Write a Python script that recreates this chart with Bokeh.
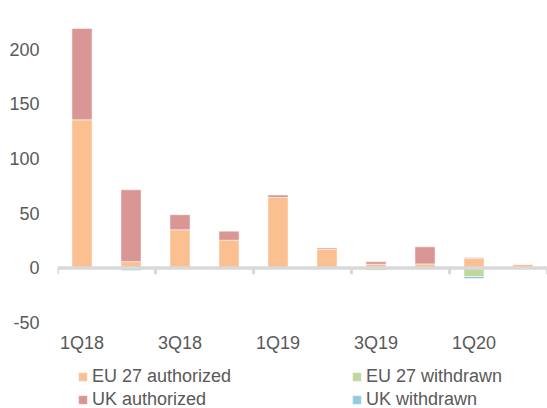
from bokeh.plotting import figure
from bokeh.models import (ColumnDataSource, FixedTicker, Span, Legend, LegendItem, Range1d)
from bokeh.embed import file_html
from bokeh.resources import INLINE

quarters = ["1Q18", "2Q18", "3Q18", "4Q18", "1Q19", "2Q19", "3Q19", "4Q19", "1Q20", "2Q20"]
eu_authorized = [135.5, 5.8, 34.9, 25.4, 64.5, 17.1, 3.4, 3.7, 8.6, 3.4]
uk_authorized = [83.5, 65.7, 13.8, 8.3, 2.2, 1.2, 2.4, 15.6, 0.9, 0.0]
eu_withdrawn = [0, 0, 0, 0, 0, 0, -2.3, 0, -7.8, 0]
uk_withdrawn = [0, -2.3, 0, 0, 0, 0, 0, 0, -1.9, 0]
y_ticks = [-50, 0, 50, 100, 150, 200, 250]

C_EU_A = "#FAC090"
C_UK_A = "#D99694"
C_EU_W = "#C3D69B"
C_UK_W = "#93CDDD"
TXT = "#595959"
AX = "#D9D9D9"
FONT = "Liberation Sans"

x = [i + 0.5 for i in range(len(quarters))]
src = ColumnDataSource(dict(x=x, eu_a=eu_authorized, uk_a=uk_authorized,
                            eu_w=eu_withdrawn, uk_w=uk_withdrawn))

p = figure(width=547, height=408, output_backend="svg", toolbar_location=None,
           x_range=Range1d(0, len(quarters)), y_range=Range1d(-128.5, 244.6),
           min_border_left=57, min_border_right=0, min_border_top=0, min_border_bottom=0)
p.outline_line_color = None
p.grid.visible = False
p.background_fill_color = "white"
p.border_fill_color = "white"

bw = 0.41
pos = p.vbar_stack(["eu_a", "uk_a"], x="x", width=bw, source=src,
                   color=[C_EU_A, C_UK_A], line_color="white", line_width=0.5)
neg = p.vbar_stack(["eu_w", "uk_w"], x="x", width=bw, source=src,
                   color=[C_EU_W, C_UK_W], line_color="white", line_width=0.5)

# zero axis line and tick marks at category boundaries
p.add_layout(Span(location=0, dimension="width", line_color=AX, line_width=3.5))
bounds = list(range(0, len(quarters) + 1, 2))
p.segment(x0=bounds, y0=[0] * len(bounds), x1=bounds, y1=[-5.8] * len(bounds),
          line_color=AX, line_width=3)

# y axis
ya = p.yaxis[0]
ya.ticker = FixedTicker(ticks=y_ticks)
ya.major_label_overrides = {t: str(t) for t in y_ticks}
ya.axis_line_color = None
ya.major_tick_line_color = None
ya.minor_tick_line_color = None
ya.major_tick_out = 0
ya.major_tick_in = 0
ya.major_label_standoff = 18
ya.major_label_text_font = FONT
ya.major_label_text_font_size = "18px"
ya.major_label_text_color = TXT

# x axis (labels only, every other quarter), placed at the bottom of the value scale
xa = p.xaxis[0]
label_pos = [x[i] for i in range(0, len(quarters), 2)]
xa.ticker = FixedTicker(ticks=label_pos)
xa.major_label_overrides = {x[i]: quarters[i] for i in range(0, len(quarters), 2)}
xa.fixed_location = y_ticks[0]
xa.axis_line_color = None
xa.major_tick_line_color = None
xa.minor_tick_line_color = None
xa.major_tick_out = 0
xa.major_tick_in = 0
xa.major_label_standoff = 10
xa.major_label_text_font = FONT
xa.major_label_text_font_size = "18px"
xa.major_label_text_color = TXT

def make_legend(items, loc):
    return Legend(items=items, location=loc, orientation="vertical",
                  glyph_width=11, glyph_height=11, label_standoff=4, spacing=0,
                  label_height=23, padding=0, margin=0,
                  border_line_color=None, background_fill_alpha=0,
                  label_text_font=FONT, label_text_font_size="18px",
                  label_text_color=TXT)

left = make_legend([LegendItem(label="EU 27 authorized", renderers=[pos[0]]),
                    LegendItem(label="UK authorized", renderers=[pos[1]])], (20, -3))
right = make_legend([LegendItem(label="EU 27 withdrawn", renderers=[neg[0]]),
                     LegendItem(label="UK withdrawn", renderers=[neg[1]])], (294, -3))
p.add_layout(left, "center")
p.add_layout(right, "center")

open("out.html", "w").write(file_html(p, INLINE))
